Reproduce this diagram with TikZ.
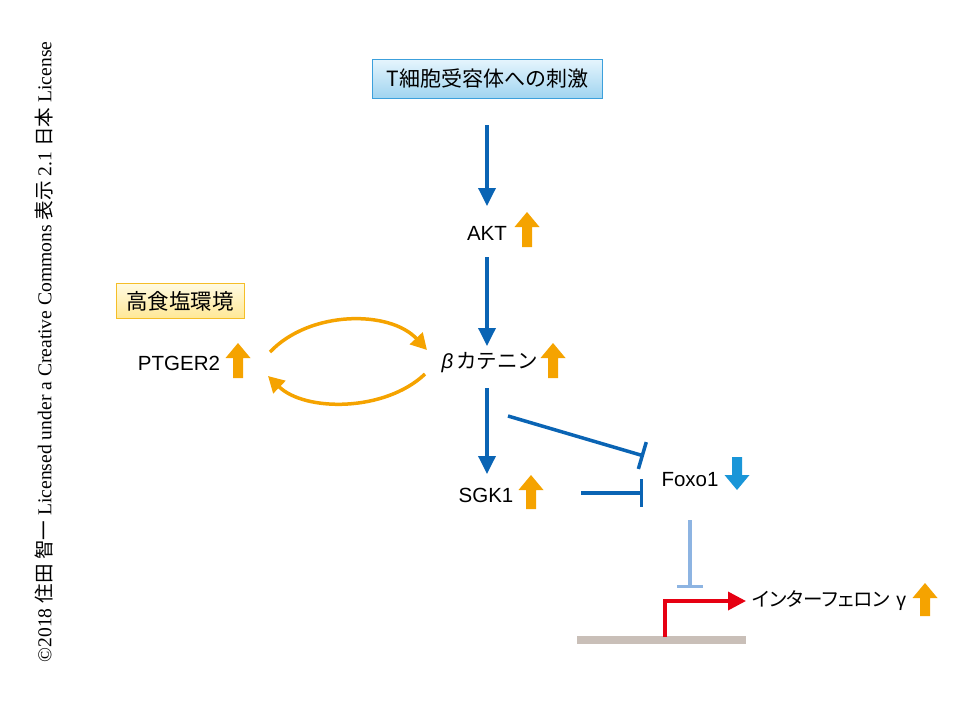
\documentclass[tikz,border=0pt]{standalone}
\usepackage{fontspec}
\setmainfont{Liberation Sans}
\newfontfamily\jp{Noto Sans CJK JP}
\newfontfamily\jpp[RawFeature=+palt]{Noto Sans CJK JP}
\newfontfamily\serifjp{Liberation Serif}
\usetikzlibrary{arrows.meta}
\definecolor{blu}{HTML}{0A64B4}
\definecolor{org}{HTML}{F5A300}
\definecolor{lblu}{HTML}{1A96D8}
\definecolor{pblu}{HTML}{8DB4E2}
\definecolor{rd}{HTML}{E60012}
\definecolor{gry}{HTML}{C9BFB8}
\tikzset{
  lbl/.style={font=\fontsize{20.5}{22}\selectfont, inner sep=0pt},
  act/.style={draw=blu, line width=3.5pt, -{Triangle[length=18pt,width=17pt]}},
  inh/.style={draw=blu, line width=3.5pt, -{Bar[width=28pt,line width=3.5pt]}},
  loop/.style={draw=org, line width=3.5pt, -{Triangle[length=16pt,width=17pt]}},
}
% block arrow: #1 = colour, #2 = centre x, #3 = tip y, #4 = length, #5 = direction (1 up, -1 down)
\newcommand\blockarr[5]{%
  \fill[#1] (#2,#3) -- ++(12.5,#5*15) -- ++(-7.5,0) -- ++(0,#5*#4-#5*15) -- ++(-10,0) -- ++(0,-#5*#4+#5*15) -- ++(-7.5,0) -- cycle;}
\begin{document}
\begin{tikzpicture}[x=1pt,y=-1pt]
\useasboundingbox (0,0) rectangle (972,702);
% top box
\node[draw={rgb,255:red,60;green,160;blue,220}, line width=1pt, top color={rgb,255:red,230;green,245;blue,253}, bottom color={rgb,255:red,160;green,212;blue,240}, minimum width=230pt, minimum height=39pt, inner sep=0pt, font=\jp\fontsize{21}{22}\selectfont] (tcr) at (487.5,78.5) {T細胞受容体への刺激};
% salt box
\node[draw={rgb,255:red,245;green,190;blue,40}, line width=1pt, top color={rgb,255:red,255;green,250;blue,225}, bottom color={rgb,255:red,255;green,232;blue,150}, minimum width=128pt, minimum height=35pt, inner sep=0pt, font=\jp\fontsize{21.5}{22}\selectfont] (salt) at (180,301) {高食塩環境};
% labels
\node[lbl] (akt) at (487,233) {AKT};
\node[lbl] (bcat) at (490,363) {\textit{β}\hspace{3pt}{\jp カテニン}};
\node[lbl] (sgk) at (486,495) {SGK1};
\node[lbl] (foxo) at (690,480) {Foxo1};
\node[lbl] (ptg) at (179,363) {PTGER2};
\node[lbl, anchor=west, font=\fontsize{19.5}{20}\selectfont] (ifn) at (752,601) {{\jpp インターフェロン}\hspace{6pt}γ};
% block arrows
\blockarr{org}{527}{212}{35}{1}
\blockarr{org}{553}{343}{35}{1}
\blockarr{org}{531}{475}{34}{1}
\blockarr{org}{238}{343}{35}{1}
\blockarr{org}{925}{583}{33}{1}
\blockarr{lblu}{737}{490}{33}{-1}
% coordinates
\coordinate (a1) at (487,125);
\coordinate (a2) at (487,206);
\coordinate (b1) at (487,257);
\coordinate (b2) at (487,346);
\coordinate (c1) at (487,388);
\coordinate (c2) at (487,474);
\coordinate (d1) at (508,416);
\coordinate (d2) at (644,456);
\coordinate (e1) at (581,493);
\coordinate (e2) at (643,493);
\coordinate (f1) at (690,520);
\coordinate (f2) at (690,588);
\coordinate (g0) at (665,637);
\coordinate (g1) at (665,601);
\coordinate (g2) at (746,601);
\coordinate (l1) at (270,352);
\coordinate (l2) at (427,350);
\coordinate (l3) at (425,374);
\coordinate (l4) at (268,376);
% connectors
\draw[act] (a1) -- (a2);
\draw[act] (b1) -- (b2);
\draw[act] (c1) -- (c2);
\draw[inh] (d1) -- (d2);
\draw[inh] (e1) -- (e2);
\draw[draw=pblu, line width=3.5pt, -{Bar[width=26pt,line width=3.5pt]}] (f1) -- (f2);
\draw[gry, line width=8pt] (577,640) -- (746,640);
\draw[draw=rd, line width=3.5pt, -{Triangle[length=18pt,width=18pt]}] (g0) -- (g1) -- (g2);
\draw[loop] (l1) .. controls (310,310) and (390,310) .. (l2);
\draw[loop] (l3) .. controls (385,412) and (305,412) .. (l4);
% vertical credit
\node[rotate=90, inner sep=0pt, font=\fontsize{19.6}{20}\selectfont] (cred) at (44,352) {\serifjp ©2018 {\jp 住田 智一} Licensed under a Creative Commons {\jp 表示} 2.1 {\jp 日本} License};
\end{tikzpicture}
\end{document}
